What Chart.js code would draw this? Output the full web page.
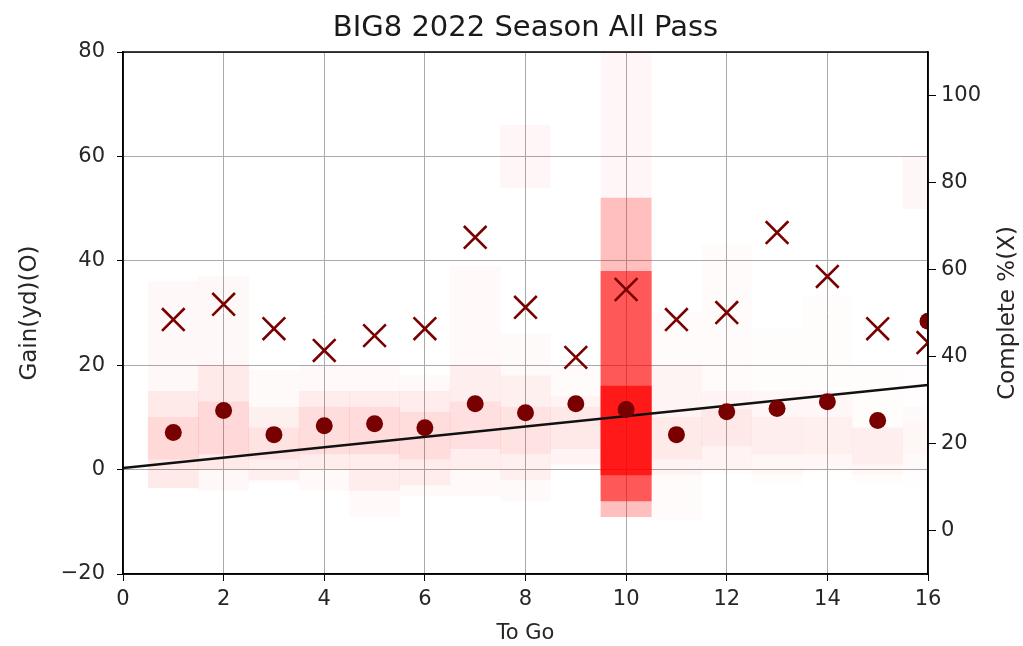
<!DOCTYPE html>
<html>
<head>
<meta charset="utf-8">
<script src="https://cdn.jsdelivr.net/npm/chart.js@4.4.1/dist/chart.umd.min.js"></script>
<style>
  html, body { margin: 0; padding: 0; background: #fff; }
</style>
</head>
<body>
<canvas id="myChart" width="1023" height="646"></canvas>
<script>
// yards to go (x)
var toGo = [1, 2, 3, 4, 5, 6, 7, 8, 9, 10, 11, 12, 13, 14, 15, 16];
// mean gain, left axis (O)
var gainMean = [7.1, 11.3, 6.7, 8.4, 8.8, 8.0, 12.6, 10.9, 12.6, 11.5, 6.7, 11.1, 11.7, 13.0, 9.4, 28.4];
// completion %, right axis (X)
var completePct = [48.5, 52.0, 46.4, 41.4, 44.8, 46.4, 67.4, 51.3, 39.8, 55.4, 48.5, 50.1, 68.5, 58.4, 46.4, 43.2];
// relative number of passes per column (drives the red shading)
var playCount = [40, 38, 30, 34, 36, 34, 32, 30, 24, 360, 22, 24, 18, 16, 18, 10];
// gain spread bands per column
var spreadLo = [-3.5, -4, -2.5, -4, -9, -5, -5, -6, 0.5, -9, -9.6, -0.6, -3, -0.6, -2.5, -3];
var spreadHi = [36, 37, 19, 20, 20, 18, 39, 26, 20, 52, 30, 43, 27, 33, 20, 20];
var midLo = [-3.5, 0, -2, 0, -4, -3, 0, -2, 1, -6, -1, 0, -1, 0, -1, 0];
var midHi = [15, 20, 12, 15, 15, 15, 20, 18, 14, 38, 20, 15, 15, 15, 8, 12];
var coreLo = [2, 3, 2, 3, 3, 2, 4, 3, 4, -1, 2, 4.5, 3, 3, 1, 3];
var coreHi = [10, 13, 8, 12, 12, 11, 13, 12, 12, 16, 10, 11.5, 10, 10, 8, 9];
var tailLo = [null, null, null, null, null, null, null, 54, null, 52, null, null, null, null, null, 50];
var tailHi = [null, null, null, null, null, null, null, 66, null, 85, null, null, null, null, null, 60];
// reference line
var fitX = [0, 16];
var fitY = [0.3, 16.2];

var ctx = document.getElementById('myChart').getContext('2d');
Chart.defaults.font.family = 'DejaVu Sans';
Chart.defaults.color = '#262626';

function band(lo, hi) {
    var out = [];
    for (var i = 0; i < toGo.length; i++) {
        if (lo[i] !== null) out.push({ x: toGo[i], y: [lo[i], hi[i]] });
    }
    return out;
}
// k scales alpha with playCount; a fixed alpha when k is a string
function heat(label, lo, hi, k) {
    var cols = [];
    for (var i = 0; i < toGo.length; i++) {
        if (lo[i] === null) continue;
        var a = typeof k === 'string' ? parseFloat(k) : Math.min(1, playCount[i] * k);
        cols.push('rgba(255,0,0,' + a.toFixed(3) + ')');
    }
    return {
        type: 'bar', label: label, data: band(lo, hi), backgroundColor: cols,
        borderWidth: 0, barPercentage: 1, categoryPercentage: 1, grouped: false,
        yAxisID: 'y', order: 5, clip: 0
    };
}
function minus(v) { return String(v).replace('-', '\u2212'); }

// plot frame like matplotlib, title centred on the axes, right label read bottom-to-top
var frame = {
    id: 'frame',
    afterDatasetsDraw: function (chart) {
        var a = chart.chartArea, c = chart.ctx;
        c.save();
        c.strokeStyle = '#000';
        c.lineWidth = 1.5;
        c.strokeRect(a.left, a.top, a.right - a.left, a.bottom - a.top);
        c.restore();
    },
    afterDraw: function (chart) {
        var a = chart.chartArea, c = chart.ctx;
        c.save();
        c.textAlign = 'center';
        c.textBaseline = 'middle';
        c.font = '29px "DejaVu Sans"';
        c.fillStyle = '#1a1a1a';
        c.fillText('BIG8 2022 Season All Pass', (a.left + a.right) / 2, 28);
        c.translate(1008, (a.top + a.bottom) / 2);
        c.rotate(-Math.PI / 2);
        c.font = '23px "DejaVu Sans"';
        c.fillStyle = '#262626';
        c.fillText('Complete %(X)', 0, 0);
        c.restore();
    }
};

var chart = new Chart(ctx, {
    type: 'bar',
    data: {
        datasets: [
            {
                type: 'scatter', label: 'Gain', yAxisID: 'y', order: 0, clip: 0,
                data: toGo.map(function (x, i) { return { x: x, y: gainMean[i] }; }),
                pointStyle: 'circle', pointRadius: 8.5,
                backgroundColor: '#780000', borderColor: '#780000', borderWidth: 0
            },
            {
                type: 'scatter', label: 'Complete', yAxisID: 'y1', order: 0, clip: 0,
                data: toGo.map(function (x, i) { return { x: x, y: completePct[i] }; }),
                pointStyle: 'crossRot', pointRadius: 16,
                borderColor: '#780000', borderWidth: 2.6
            },
            {
                type: 'line', label: 'fit', yAxisID: 'y', order: 1, clip: 0,
                data: fitX.map(function (x, i) { return { x: x, y: fitY[i] }; }),
                borderColor: '#111', borderWidth: 2.4, pointRadius: 0, fill: false
            },
            heat('spread', spreadLo, spreadHi, 0.0007),
            heat('mid', midLo, midHi, 0.0015),
            heat('core', coreLo, coreHi, 0.002),
            heat('tail', tailLo, tailHi, '0.03')
        ]
    },
    options: {
        responsive: false,
        animation: false,
        layout: { padding: { top: 52, left: 0, right: 0, bottom: 0 } },
        plugins: {
            legend: { display: false },
            tooltip: { enabled: false },
            title: { display: false }
        },
        scales: {
            x: {
                type: 'linear', min: 0, max: 16, offset: false,
                ticks: { stepSize: 2, font: { size: 21 }, padding: 6, maxRotation: 0 },
                grid: { color: '#aaaaaa', lineWidth: 1, tickLength: 7, tickColor: '#000', offset: false },
                border: { color: '#000', width: 1.5 },
                title: { display: true, text: 'To Go', font: { size: 21 }, padding: { top: 0, bottom: 0 } },
                afterFit: function (s) { s.height = 72; }
            },
            y: {
                position: 'left', min: -20, max: 80,
                ticks: { stepSize: 20, font: { size: 21 }, padding: 12, callback: minus },
                grid: { color: '#aaaaaa', lineWidth: 1, tickLength: 6, tickColor: '#000' },
                border: { color: '#000', width: 1.5 },
                title: { display: true, text: 'Gain(yd)(O)', font: { size: 23 }, padding: { top: 16, bottom: 0 } },
                afterFit: function (s) { s.width = 123; }
            },
            y1: {
                position: 'right', min: -10, max: 110,
                ticks: { font: { size: 21 }, padding: 5 },
                afterBuildTicks: function (s) {
                    s.ticks = [0, 20, 40, 60, 80, 100].map(function (v) { return { value: v }; });
                },
                grid: { drawOnChartArea: false, tickLength: 8, tickColor: '#000' },
                border: { color: '#000', width: 1.5 },
                title: { display: false },
                afterFit: function (s) { s.width = 95; }
            }
        }
    },
    plugins: [frame]
});
</script>
</body>
</html>
